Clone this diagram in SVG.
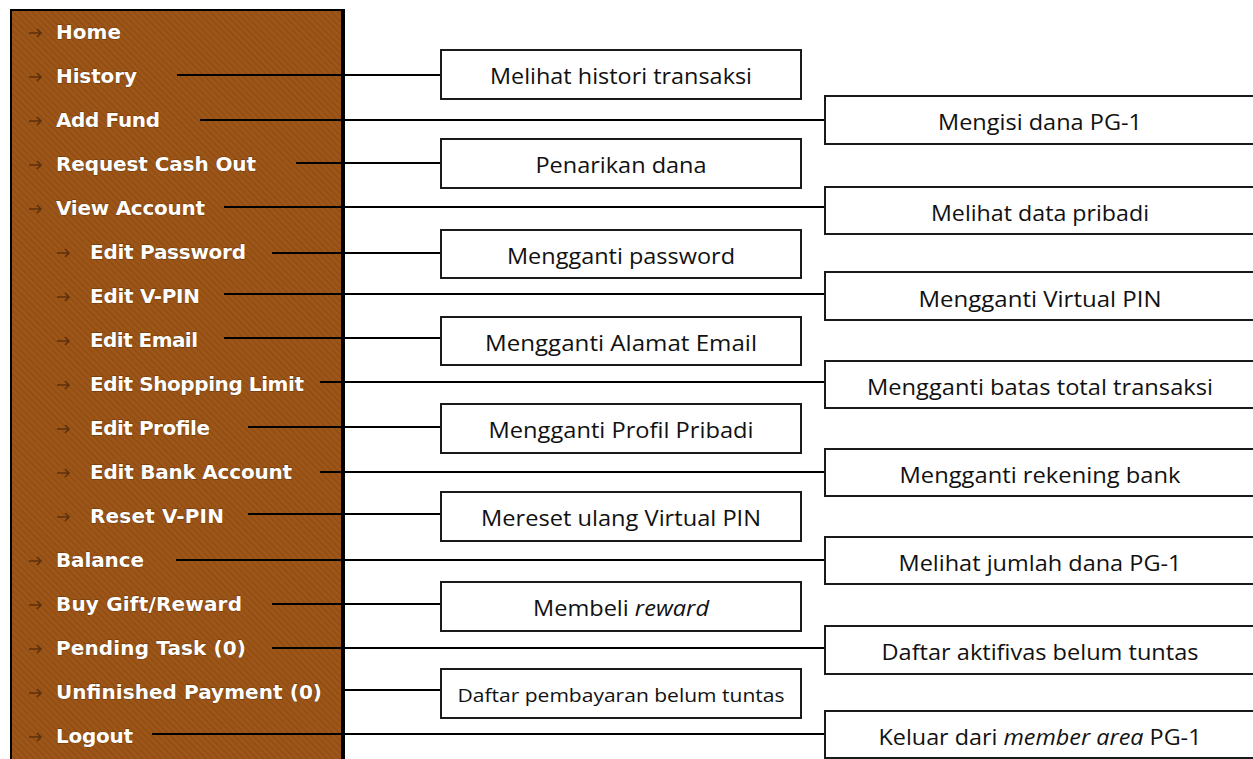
<svg xmlns="http://www.w3.org/2000/svg" width="1253" height="759" viewBox="0 0 1253 759">
<style>
.menu{font-family:"DejaVu Sans","Verdana",sans-serif;font-weight:bold;font-size:20px;fill:#ffffff;stroke:#6a3508;stroke-width:0.8;paint-order:stroke}
.arr{fill:none;stroke:#5e310c;stroke-width:1.6}
.box{fill:#ffffff;stroke:#1a1a1a;stroke-width:2}
.lbl{font-family:"Open Sans","Noto Sans",sans-serif;font-size:21px;fill:#111111;text-anchor:middle}
.sm{font-size:19px}
.con{stroke:#000000;stroke-width:2;fill:none}
</style>
<defs>
<pattern id="hatch" patternUnits="userSpaceOnUse" width="4.5" height="4.5" patternTransform="rotate(-45)">
<rect width="4.5" height="4.5" fill="#9d5618"/>
<rect width="1.5" height="4.5" fill="#8f4d14"/>
</pattern>
<path id="ar" d="M0,0 H12 M8,-4 L12,0 L8,4"/>
</defs>
<rect width="1253" height="759" fill="#ffffff"/>
<g id="panel">
<rect x="10" y="9" width="335" height="760" fill="#000000"/>
<rect x="12" y="11" width="329" height="760" fill="url(#hatch)"/>
</g>
<g id="connectors">
<line class="con" x1="177" y1="75" x2="441" y2="75"/>
<line class="con" x1="200" y1="120" x2="825" y2="120"/>
<line class="con" x1="296" y1="163" x2="441" y2="163"/>
<line class="con" x1="224" y1="207" x2="825" y2="207"/>
<line class="con" x1="272" y1="253" x2="441" y2="253"/>
<line class="con" x1="224" y1="294" x2="825" y2="294"/>
<line class="con" x1="224" y1="338" x2="441" y2="338"/>
<line class="con" x1="320" y1="382" x2="825" y2="382"/>
<line class="con" x1="248" y1="427" x2="441" y2="427"/>
<line class="con" x1="320" y1="472" x2="825" y2="472"/>
<line class="con" x1="248" y1="514" x2="441" y2="514"/>
<line class="con" x1="176" y1="560" x2="825" y2="560"/>
<line class="con" x1="272" y1="604" x2="441" y2="604"/>
<line class="con" x1="272" y1="648" x2="825" y2="648"/>
<line class="con" x1="344" y1="690" x2="441" y2="690"/>
<line class="con" x1="152" y1="734" x2="825" y2="734"/>
</g>
<g id="m-home"><use href="#ar" class="arr" x="29" y="33"/><text class="menu" x="56" y="39" textLength="65">Home</text></g>
<g id="m-history"><use href="#ar" class="arr" x="29" y="77"/><text class="menu" x="56" y="83" textLength="81">History</text></g>
<g id="m-addfund"><use href="#ar" class="arr" x="29" y="121"/><text class="menu" x="56" y="127" textLength="104">Add Fund</text></g>
<g id="m-cashout"><use href="#ar" class="arr" x="29" y="165"/><text class="menu" x="56" y="171" textLength="200">Request Cash Out</text></g>
<g id="m-viewaccount"><use href="#ar" class="arr" x="29" y="209"/><text class="menu" x="56" y="215" textLength="149">View Account</text></g>
<g id="m-editpassword"><use href="#ar" class="arr" x="57" y="253"/><text class="menu" x="90" y="259" textLength="156">Edit Password</text></g>
<g id="m-editvpin"><use href="#ar" class="arr" x="57" y="297"/><text class="menu" x="90" y="303" textLength="110">Edit V-PIN</text></g>
<g id="m-editemail"><use href="#ar" class="arr" x="57" y="341"/><text class="menu" x="90" y="347" textLength="108">Edit Email</text></g>
<g id="m-editshopping"><use href="#ar" class="arr" x="57" y="385"/><text class="menu" x="90" y="391" textLength="214">Edit Shopping Limit</text></g>
<g id="m-editprofile"><use href="#ar" class="arr" x="57" y="429"/><text class="menu" x="90" y="435" textLength="120">Edit Profile</text></g>
<g id="m-editbank"><use href="#ar" class="arr" x="57" y="473"/><text class="menu" x="90" y="479" textLength="202">Edit Bank Account</text></g>
<g id="m-resetvpin"><use href="#ar" class="arr" x="57" y="517"/><text class="menu" x="90" y="523" textLength="134">Reset V-PIN</text></g>
<g id="m-balance"><use href="#ar" class="arr" x="29" y="561"/><text class="menu" x="56" y="567" textLength="88">Balance</text></g>
<g id="m-buygift"><use href="#ar" class="arr" x="29" y="605"/><text class="menu" x="56" y="611" textLength="186">Buy Gift/Reward</text></g>
<g id="m-pending"><use href="#ar" class="arr" x="29" y="649"/><text class="menu" x="56" y="655" textLength="190">Pending Task (0)</text></g>
<g id="m-unfinished"><use href="#ar" class="arr" x="29" y="693"/><text class="menu" x="56" y="699" textLength="266">Unfinished Payment (0)</text></g>
<g id="m-logout"><use href="#ar" class="arr" x="29" y="737"/><text class="menu" x="56" y="743" textLength="77">Logout</text></g>
<g id="b-histori"><rect class="box" x="441" y="50" width="360" height="49"/><text class="lbl" x="621" y="84" textLength="262" lengthAdjust="spacingAndGlyphs">Melihat histori transaksi</text></g>
<g id="b-penarikan"><rect class="box" x="441" y="139" width="360" height="49"/><text class="lbl" x="621" y="173" textLength="171" lengthAdjust="spacingAndGlyphs">Penarikan dana</text></g>
<g id="b-password"><rect class="box" x="441" y="230" width="360" height="48"/><text class="lbl" x="621" y="264" textLength="228" lengthAdjust="spacingAndGlyphs">Mengganti password</text></g>
<g id="b-email"><rect class="box" x="441" y="317" width="360" height="48"/><text class="lbl" x="621" y="351" textLength="272" lengthAdjust="spacingAndGlyphs">Mengganti Alamat Email</text></g>
<g id="b-profil"><rect class="box" x="441" y="404" width="360" height="49"/><text class="lbl" x="621" y="438" textLength="265" lengthAdjust="spacingAndGlyphs">Mengganti Profil Pribadi</text></g>
<g id="b-mereset"><rect class="box" x="441" y="492" width="360" height="49"/><text class="lbl" x="621" y="526" textLength="280" lengthAdjust="spacingAndGlyphs">Mereset ulang Virtual PIN</text></g>
<g id="b-membeli"><rect class="box" x="441" y="582" width="360" height="49"/><text class="lbl" x="621" y="616" textLength="176" lengthAdjust="spacingAndGlyphs">Membeli <tspan font-style="italic">reward</tspan></text></g>
<g id="b-pembayaran"><rect class="box" x="441" y="669" width="360" height="49"/><text class="lbl sm" x="621" y="702" textLength="327" lengthAdjust="spacingAndGlyphs">Daftar pembayaran belum tuntas</text></g>
<g id="b-mengisi"><rect class="box" x="825" y="96" width="440" height="48"/><text class="lbl" x="1040" y="130" textLength="204" lengthAdjust="spacingAndGlyphs">Mengisi dana PG-1</text></g>
<g id="b-datapribadi"><rect class="box" x="825" y="187" width="440" height="47"/><text class="lbl" x="1040" y="221" textLength="218" lengthAdjust="spacingAndGlyphs">Melihat data pribadi</text></g>
<g id="b-virtualpin"><rect class="box" x="825" y="272" width="440" height="48"/><text class="lbl" x="1040" y="307" textLength="243" lengthAdjust="spacingAndGlyphs">Mengganti Virtual PIN</text></g>
<g id="b-batas"><rect class="box" x="825" y="361" width="440" height="47"/><text class="lbl" x="1040" y="395" textLength="346" lengthAdjust="spacingAndGlyphs">Mengganti batas total transaksi</text></g>
<g id="b-rekening"><rect class="box" x="825" y="449" width="440" height="47"/><text class="lbl" x="1040" y="483" textLength="281" lengthAdjust="spacingAndGlyphs">Mengganti rekening bank</text></g>
<g id="b-jumlah"><rect class="box" x="825" y="537" width="440" height="47"/><text class="lbl" x="1040" y="571" textLength="283" lengthAdjust="spacingAndGlyphs">Melihat jumlah dana PG-1</text></g>
<g id="b-aktifivas"><rect class="box" x="825" y="626" width="440" height="48"/><text class="lbl" x="1040" y="660" textLength="317" lengthAdjust="spacingAndGlyphs">Daftar aktifivas belum tuntas</text></g>
<g id="b-keluar"><rect class="box" x="825" y="711" width="440" height="47"/><text class="lbl" x="1040" y="745" textLength="323" lengthAdjust="spacingAndGlyphs">Keluar dari <tspan font-style="italic">member area</tspan> PG-1</text></g>
</svg>
